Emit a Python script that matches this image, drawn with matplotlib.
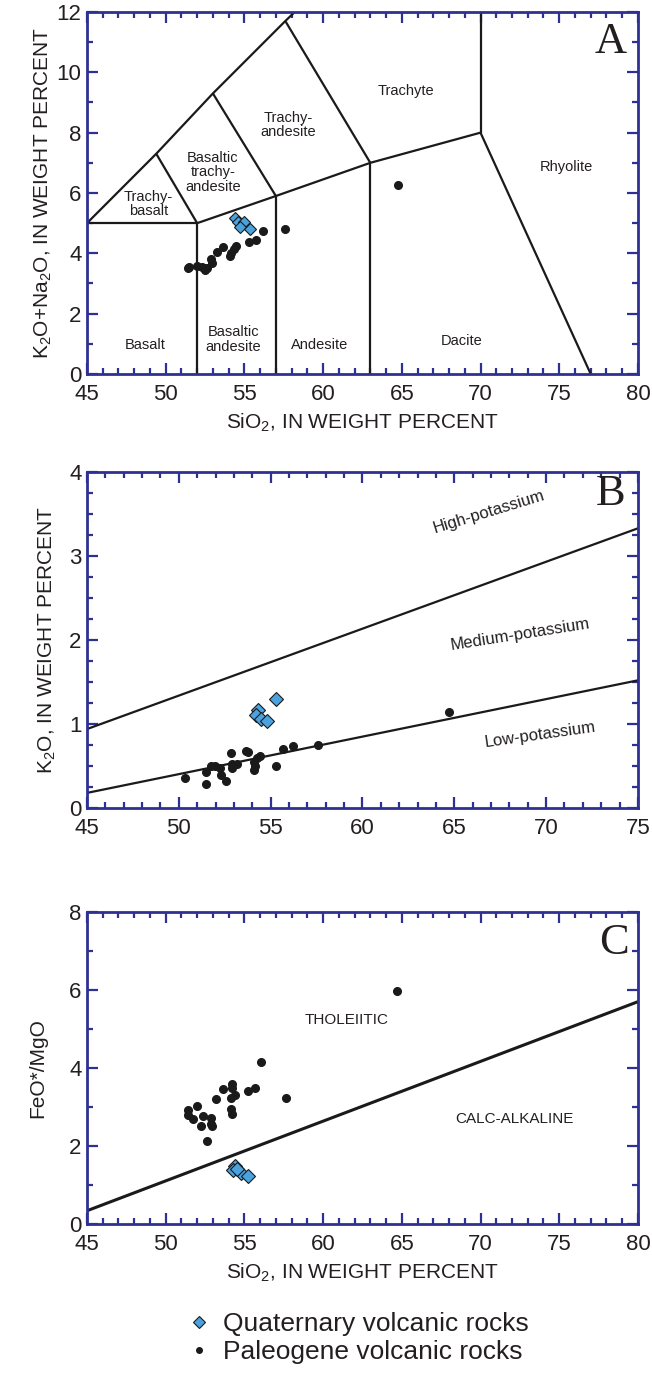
import numpy as np
import matplotlib
matplotlib.use("Agg")
import matplotlib.pyplot as plt
from matplotlib.ticker import MultipleLocator
from matplotlib.lines import Line2D

plt.rcParams["font.family"] = ["Liberation Sans", "DejaVu Sans"]
plt.rcParams["mathtext.fontset"] = "custom"
plt.rcParams["mathtext.rm"] = "Liberation Sans"
plt.rcParams["mathtext.it"] = "Liberation Sans"

NAVY = "#2e3192"
TXT = "#231f20"
BLUE = "#4aa3df"

# ---- panel A data (total alkali vs silica)
a_quat_si = [54.4, 54.6, 54.95, 54.75, 55.35]
a_quat_alk = [5.18, 5.03, 5.05, 4.86, 4.79]
a_paleo_si = [64.78, 57.6, 56.2, 55.74, 55.29, 54.45, 54.33, 54.12, 54.08, 53.65, 53.24,
              52.9, 52.95, 52.65, 52.42, 52.3, 51.96, 51.5, 51.4, 52.5]
a_paleo_alk = [6.28, 4.79, 4.75, 4.43, 4.38, 4.25, 4.14, 4.01, 3.9, 4.2, 4.06,
               3.81, 3.67, 3.5, 3.5, 3.55, 3.58, 3.55, 3.52, 3.45]

# TAS field boundaries
tas_lines = [
    ([45, 52], [5, 5]),
    ([52, 52], [0, 5]),
    ([57, 57], [0, 5.9]),
    ([63, 63], [0, 7]),
    ([52, 57, 63, 70], [5, 5.9, 7, 8]),
    ([70, 70], [8, 12]),
    ([70, 77], [8, 0]),
    ([45, 49.4, 53, 57.6, 58.2], [5, 7.3, 9.3, 11.7, 12.0]),
    ([49.4, 52], [7.3, 5]),
    ([53, 57], [9.3, 5.9]),
    ([57.6, 63], [11.7, 7]),
]
tas_names = ["Trachyte", "Trachy-\nandesite", "Basaltic\ntrachy-\nandesite", "Trachy-\nbasalt",
             "Rhyolite", "Basalt", "Basaltic\nandesite", "Andesite", "Dacite"]
tas_x = [65.25, 57.8, 53.0, 48.9, 75.45, 48.7, 54.3, 59.8, 68.8]
tas_y = [9.39, 8.25, 6.68, 5.63, 6.87, 0.97, 1.14, 0.97, 1.09]

# ---- panel B data (K2O vs silica)
b_quat_si = [55.27, 54.33, 54.22, 54.45, 54.82]
b_quat_k = [1.295, 1.168, 1.109, 1.061, 1.038]
b_paleo_si = [50.33, 51.47, 51.47, 51.78, 51.95, 52.27, 52.31, 52.56, 52.85, 52.87, 52.91,
              53.16, 53.64, 53.75, 54.07, 54.09, 54.15, 54.27, 54.4, 55.31, 55.69, 56.22,
              57.6, 64.73]
b_paleo_k = [0.356, 0.424, 0.289, 0.503, 0.503, 0.471, 0.388, 0.321, 0.653, 0.523, 0.475,
             0.523, 0.673, 0.665, 0.543, 0.455, 0.495, 0.594, 0.622, 0.503, 0.701, 0.733,
             0.752, 1.14]
b_high_x = [45, 75]
b_high_y = [0.94, 3.33]
b_low_x = [45, 75]
b_low_y = [0.18, 1.52]

# ---- panel C data (FeO*/MgO vs silica)
c_quat_si = [54.39, 54.28, 54.81, 55.23, 54.5]
c_quat_r = [1.50, 1.39, 1.32, 1.23, 1.42]
c_paleo_si = [56.08, 55.7, 55.23, 54.22, 54.22, 53.67, 54.43, 54.18, 53.21, 57.64, 51.96,
              51.43, 51.43, 51.71, 52.34, 52.87, 52.91, 52.97, 52.24, 54.18, 54.22, 52.62,
              64.7]
c_paleo_r = [4.15, 3.5, 3.42, 3.58, 3.5, 3.45, 3.3, 3.24, 3.21, 3.24, 3.03,
             2.93, 2.79, 2.69, 2.76, 2.73, 2.57, 2.51, 2.51, 2.96, 2.83, 2.12,
             5.97]
c_line_x = [45, 80]
c_line_y = [0.34, 5.7]


def style_axes(ax, xlim, ylim, xmaj, xmin, ymaj, ymin):
    ax.set_xlim(xlim)
    ax.set_ylim(ylim)
    ax.xaxis.set_major_locator(MultipleLocator(xmaj))
    ax.xaxis.set_minor_locator(MultipleLocator(xmin))
    ax.yaxis.set_major_locator(MultipleLocator(ymaj))
    ax.yaxis.set_minor_locator(MultipleLocator(ymin))
    ax.tick_params(which="both", direction="in", top=True, right=True, color=NAVY,
                   labelsize=16, labelcolor=TXT, width=1.6)
    ax.tick_params(which="major", length=8)
    ax.tick_params(which="minor", length=4)
    ax.tick_params(axis="x", which="major", pad=7)
    ax.tick_params(axis="y", which="major", pad=4)
    for s in ax.spines.values():
        s.set_color(NAVY)
        s.set_linewidth(2)


fig = plt.figure(figsize=(6.52, 13.77), dpi=100)

# %% panel A
ax = fig.add_axes([0.1334, 0.7284, 0.845, 0.2629])
for xs, ys in tas_lines:
    ax.plot(xs, ys, color="#1a1a1a", lw=1.6, solid_capstyle="butt", clip_on=True)
for name, x, y in zip(tas_names, tas_x, tas_y):
    ax.text(x, y, name, ha="center", va="center", fontsize=10.5, color=TXT, linespacing=1.05)
ax.plot(a_paleo_si, a_paleo_alk, "o", color="#1a1a1a", ms=5.5, ls="none")
ax.plot(a_quat_si, a_quat_alk, "D", mfc=BLUE, mec="#1a1a1a", mew=0.8, ms=6.5, ls="none")
ax.text(78.3, 11.0, "A", ha="center", va="center", fontsize=32, family="Liberation Serif", color=TXT)
style_axes(ax, (45, 80), (0, 12), 5, 1, 2, 1)
ax.set_xlabel("SiO$_2$, IN WEIGHT PERCENT", fontsize=15, color=TXT, labelpad=5)
ax.set_ylabel("K$_2$O+Na$_2$O, IN WEIGHT PERCENT", fontsize=15, color=TXT, labelpad=2)

# %% panel B
ax = fig.add_axes([0.1334, 0.4132, 0.845, 0.244])
ax.plot(b_high_x, b_high_y, color="#1a1a1a", lw=1.6)
ax.plot(b_low_x, b_low_y, color="#1a1a1a", lw=1.6)
ax.plot(b_paleo_si, b_paleo_k, "o", color="#1a1a1a", ms=5.5, ls="none")
ax.plot(b_quat_si, b_quat_k, "D", mfc=BLUE, mec="#1a1a1a", mew=0.8, ms=7.5, ls="none")
ax.text(66.9, 3.52, "High-potassium", ha="center", va="center", fontsize=12, color=TXT, rotation=17)
ax.text(68.6, 2.06, "Medium-potassium", ha="center", va="center", fontsize=12, color=TXT, rotation=9)
ax.text(69.7, 0.87, "Low-potassium", ha="center", va="center", fontsize=12, color=TXT, rotation=8)
ax.text(73.5, 3.74, "B", ha="center", va="center", fontsize=32, family="Liberation Serif", color=TXT)
style_axes(ax, (45, 75), (0, 4), 5, 1, 1, 0.25)
ax.set_ylabel("K$_2$O, IN WEIGHT PERCENT", fontsize=15, color=TXT, labelpad=8)

# %% panel C
ax = fig.add_axes([0.1334, 0.1111, 0.845, 0.2266])
ax.plot(c_line_x, c_line_y, color="#1a1a1a", lw=2.2)
ax.plot(c_paleo_si, c_paleo_r, "o", color="#1a1a1a", ms=5.5, ls="none")
ax.plot(c_quat_si, c_quat_r, "D", mfc=BLUE, mec="#1a1a1a", mew=0.8, ms=7.5, ls="none")
ax.text(61.5, 5.23, "THOLEIITIC", ha="center", va="center", fontsize=11, color=TXT)
ax.text(72.15, 2.68, "CALC-ALKALINE", ha="center", va="center", fontsize=11, color=TXT)
ax.text(78.5, 7.2, "C", ha="center", va="center", fontsize=32, family="Liberation Serif", color=TXT)
style_axes(ax, (45, 80), (0, 8), 5, 1, 2, 1)
ax.set_xlabel("SiO$_2$, IN WEIGHT PERCENT", fontsize=15, color=TXT, labelpad=5)
ax.set_ylabel("FeO*/MgO", fontsize=15, color=TXT, labelpad=16)

# legend
handles = [
    Line2D([], [], marker="D", ls="none", mfc=BLUE, mec="#1a1a1a", mew=0.8, ms=6),
    Line2D([], [], marker="o", ls="none", color="#1a1a1a", ms=4),
]
fig.legend(handles, ["Quaternary volcanic rocks", "Paleogene volcanic rocks"],
           loc="lower left", bbox_to_anchor=(0.245, -0.008), frameon=False, fontsize=19,
           handletextpad=0.3, labelspacing=0.15, handlelength=1.2, labelcolor=TXT)

plt.savefig("out.png", dpi=100)
